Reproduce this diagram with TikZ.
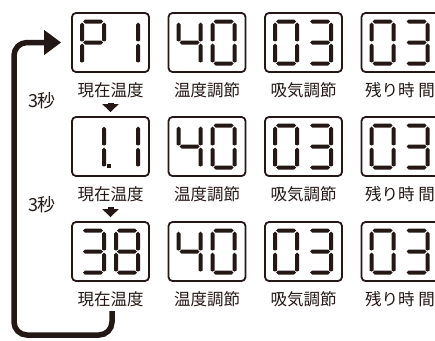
\documentclass[tikz,border=0pt]{standalone}
\usepackage{fontspec}
\newfontfamily\jpfont{Noto Sans CJK JP}
\usetikzlibrary{arrows.meta}
\definecolor{ink}{HTML}{231815}
% seven-segment pieces (cell 22 x 42, y downwards)
\newcommand\hsg[1]{(1,#1) -- (3,#1-2) -- (19,#1-2) -- (21,#1) -- (19,#1+2) -- (3,#1+2) -- cycle}
\newcommand\vsg[2]{(#1,#2+1) -- (#1+2,#2+3) -- (#1+2,#2+19) -- (#1,#2+20) -- (#1-2,#2+19) -- (#1-2,#2+3) -- cycle}
\def\segA{\hsg{0}}
\def\segG{\hsg{21}}
\def\segD{\hsg{42}}
\def\segF{\vsg{0}{0}}
\def\segE{\vsg{0}{21}}
\def\segB{\vsg{22}{0}}
\def\segC{\vsg{22}{21}}
\def\segP{(25,38) rectangle (29,42)}
\newcommand\dig[3]{\begin{scope}[shift={(#1,#2)}]\foreach \s in {#3}{\edef\tmpsegpath{\csname seg\s\endcsname}\fill[segcol] \tmpsegpath;}\end{scope}}
\begin{document}
\begin{tikzpicture}[x=1pt,y=-1pt,
  box/.style={draw=ink, line width=1.8pt, rounded corners=4pt, minimum width=77pt, minimum height=59pt, inner sep=0pt},
  lab/.style={font=\jpfont\fontsize{16.5}{16.5}\selectfont, text=ink, inner sep=0pt},
  secs/.style={font=\jpfont\fontsize{18}{18}\selectfont, text=ink, inner sep=0pt},
  loopline/.style={draw=ink, line width=5.5pt, rounded corners=13pt, -{Triangle[width=24pt,length=17pt]}},
  downarr/.style={draw=ink, line width=6pt, -{Triangle[width=16pt,length=8pt]}},
  segcol/.style={fill=ink}]
\useasboundingbox (0,0) rectangle (435,340);
\clip (0,0) rectangle (435,340);
% boxes and labels
\foreach \r/\ry in {1/13,2/117,3/222}{
  \foreach \c/\cx/\t in {1/72/現在温度,2/168.5/温度調節,3/265/吸気調節,4/361.5/残り時 間}{
    \node[box] (b\r\c) at (\cx+38.5,\ry+29.5) {};
    \node[lab] (l\r\c) at ([yshift=-17pt]b\r\c.south) {\t};
  }
  \dig{168.5+10}{\ry+8.5}{B,C,F,G}
  \dig{168.5+44}{\ry+8.5}{A,B,C,D,E,F}
  \dig{265+10}{\ry+8.5}{A,B,C,D,E,F}
  \dig{265+44}{\ry+8.5}{A,B,C,D,G}
  \dig{361.5+10}{\ry+8.5}{A,B,C,D,E,F}
  \dig{361.5+44}{\ry+8.5}{A,B,C,D,G}
}
% first column readings
\dig{82}{21.5}{A,B,E,F,G}
\dig{116}{21.5}{B,C}
\dig{82}{125.5}{B,C,P}
\dig{116}{125.5}{B,C}
\dig{82}{230.5}{A,B,C,D,G}
\dig{116}{230.5}{A,B,C,D,E,F,G}
% 3 seconds
\node[secs] (s1) at (42,101) {3秒};
\node[secs] (s2) at (42,205) {3秒};
% down arrows
\draw[downarr] ([yshift=-5pt]l11.south) -- ([yshift=4pt]b21.north);
\draw[downarr] ([yshift=-5pt]l21.south) -- ([yshift=4pt]b31.north);
% loop back
\coordinate (ls) at (112,311);
\coordinate (le) at ([xshift=-10pt]b11.west);
\draw[loopline] (ls) -- (112,335) -- (14,335) -- (14,0 |- le) -- (le);
\end{tikzpicture}
\end{document}
